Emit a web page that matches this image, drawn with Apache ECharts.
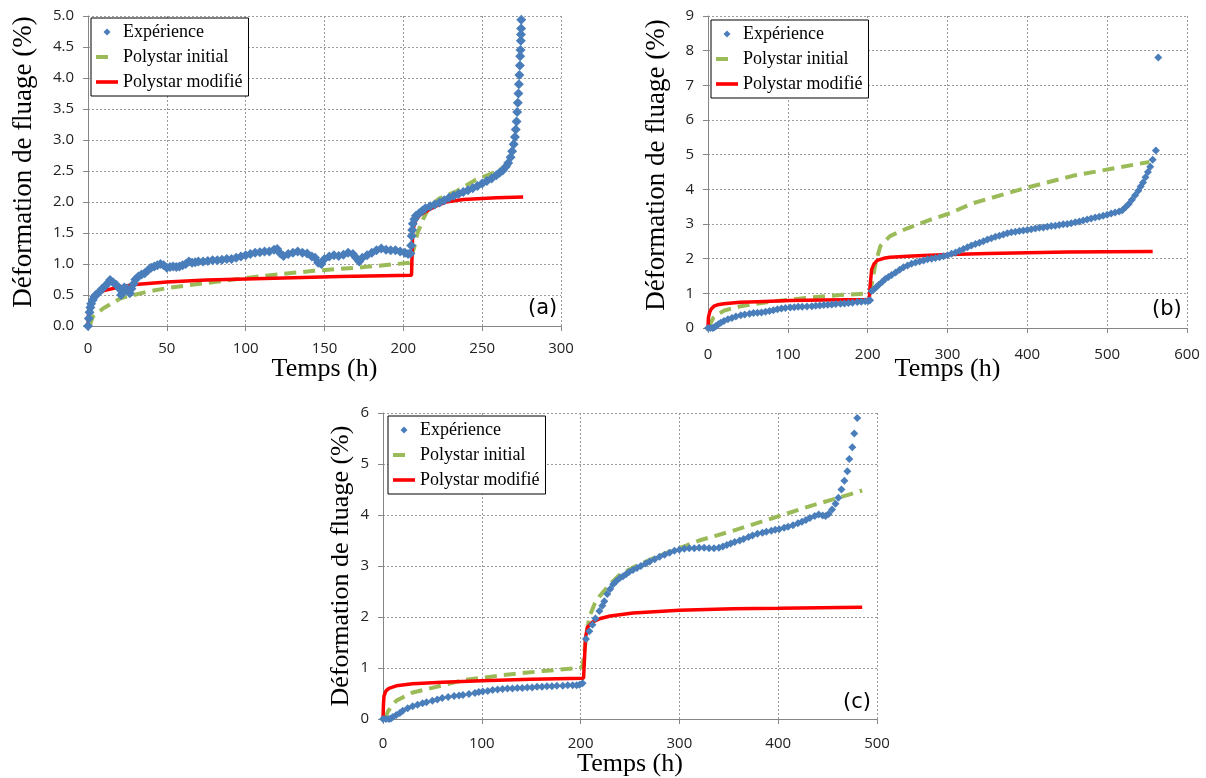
<!DOCTYPE html>
<html><head><meta charset="utf-8">
<script src="https://cdn.jsdelivr.net/npm/echarts@6/dist/echarts.min.js"></script>
<style>html,body{margin:0;padding:0;background:#fff}#c{width:1206px;height:778px}</style>
</head><body><div id="c"></div>
<script>
// ---------- text ----------
const seriesNames = ['Expérience', 'Polystar initial', 'Polystar modifié'];
const panelLabels = ['(a)', '(b)', '(c)'];
const xTitle = 'Temps (h)';
const yTitle = 'Déformation de fluage (%)';

// ---------- axis ranges [min, max, interval] ----------
const xRangeA = [0, 300, 50],  yRangeA = [0, 5, 0.5];
const xRangeB = [0, 600, 100], yRangeB = [0, 9, 1];
const xRangeC = [0, 500, 100], yRangeC = [0, 6, 1];

// ---------- panel (a) ----------
const expA = [[0,0],[0.5,0.12],[1,0.22],[1.5,0.3],[2,0.36],[3,0.42],[4,0.47],[5,0.5],[7,0.55],[9,0.6],[11,0.65],[13,0.7],[14,0.74],[16,0.7],[18,0.66],[20,0.6],[21,0.5],[22,0.55],[23,0.62],[25,0.6],[26.5,0.53],[27.5,0.6],[29,0.68],[30,0.75],[32,0.8],[34,0.83],[36,0.85],[38,0.9],[40,0.94],[42,0.96],[44,0.98],[46,1.0],[48,0.98],[50,0.94],[52,0.95],[54,0.96],[56,0.95],[58,0.96],[60,0.98],[62,1.0],[64,1.04],[66,1.02],[68,1.03],[70,1.04],[73,1.04],[76,1.05],[79,1.06],[82,1.06],[85,1.07],[88,1.08],[91,1.08],[94,1.1],[97,1.12],[100,1.14],[103,1.16],[106,1.18],[109,1.19],[112,1.2],[115,1.2],[118,1.23],[120,1.24],[122,1.17],[124,1.13],[127,1.16],[130,1.18],[133,1.2],[136,1.18],[139,1.17],[142,1.12],[144,1.1],[146,1.02],[148,1.0],[150,1.08],[153,1.12],[156,1.14],[159,1.13],[162,1.15],[165,1.18],[168,1.16],[170,1.1],[172,1.04],[174,1.1],[177,1.14],[180,1.18],[183,1.22],[186,1.25],[189,1.23],[192,1.22],[195,1.22],[198,1.2],[201,1.18],[203,1.16],[204.5,1.17],[205,1.3],[205.3,1.45],[205.6,1.55],[206,1.65],[207,1.72],[208,1.78],[210,1.82],[212,1.86],[214,1.9],[217,1.93],[220,1.96],[223,1.99],[226,2.03],[229,2.07],[232,2.1],[235,2.13],[238,2.16],[241,2.19],[244,2.22],[247,2.26],[250,2.3],[253,2.34],[256,2.38],[259,2.43],[261,2.47],[263,2.51],[265,2.57],[266.5,2.63],[268,2.72],[269,2.82],[270,2.93],[270.8,3.05],[271.3,3.17],[271.8,3.3],[272.2,3.45],[272.6,3.6],[273,3.75],[273.3,3.9],[273.6,4.05],[273.9,4.2],[274.1,4.35],[274.3,4.45],[274.5,4.6],[274.6,4.7],[274.7,4.8],[274.8,4.94]];
const initA = [[1,0],[3,0.15],[10,0.29],[21,0.45],[37,0.55],[52,0.62],[80,0.71],[109,0.8],[143,0.89],[175,0.95],[204,1.02],[207,1.28],[209,1.5],[212.5,1.72],[216.6,1.93],[223,2.06],[233.6,2.17],[246,2.36],[259,2.49],[270.5,2.66]];
const modA = [[0,0],[0.3,0.2],[0.7,0.3],[1.5,0.38],[3,0.45],[5,0.5],[10,0.57],[20,0.63],[30,0.67],[50,0.71],[75,0.74],[100,0.76],[130,0.78],[160,0.8],[205.2,0.82],[205.6,1.2],[206,1.55],[208,1.71],[211,1.8],[216.6,1.88],[222,1.95],[227,2.0],[238,2.04],[259,2.07],[276,2.08]];

// ---------- panel (b) ----------
const expB = [[0,0],[3,0],[6,0],[8,0.02],[10,0.06],[13,0.11],[16,0.15],[20,0.2],[25,0.25],[30,0.29],[35,0.33],[41,0.37],[46,0.39],[52,0.41],[57,0.43],[62,0.44],[67,0.45],[72,0.47],[77,0.49],[82,0.51],[87,0.54],[92,0.56],[97,0.58],[103,0.59],[108,0.6],[113,0.61],[118,0.61],[124,0.62],[130,0.63],[135,0.64],[140,0.65],[145,0.66],[150,0.67],[155,0.68],[160,0.69],[166,0.7],[171,0.71],[176,0.72],[181,0.73],[187,0.75],[192,0.76],[197,0.77],[201,0.78],[203,0.8],[205,1.07],[208,1.12],[211,1.18],[214,1.25],[218,1.33],[222,1.41],[226,1.47],[230,1.53],[235,1.6],[240,1.68],[245,1.75],[250,1.8],[255,1.85],[260,1.89],[265,1.92],[270,1.95],[275,1.98],[280,2.0],[285,2.02],[290,2.04],[295,2.07],[300,2.1],[305,2.14],[310,2.18],[315,2.23],[320,2.28],[325,2.33],[330,2.38],[335,2.42],[340,2.46],[345,2.5],[350,2.55],[355,2.59],[360,2.63],[365,2.66],[370,2.7],[375,2.73],[380,2.76],[385,2.78],[390,2.8],[395,2.81],[400,2.83],[405,2.85],[410,2.87],[415,2.89],[420,2.9],[425,2.92],[430,2.94],[435,2.95],[440,2.97],[445,2.99],[450,3.0],[455,3.02],[460,3.05],[465,3.07],[470,3.1],[475,3.13],[480,3.16],[485,3.19],[490,3.21],[495,3.24],[500,3.27],[505,3.3],[510,3.33],[515,3.36],[519,3.4],[523,3.48],[527,3.58],[531,3.7],[535,3.83],[539,3.96],[542,4.08],[545,4.2],[548,4.35],[551,4.5],[554,4.65],[557,4.85],[561,5.12],[564,7.8]];
const initB = [[2,0],[3.3,0.15],[7,0.3],[12,0.39],[20,0.5],[41,0.63],[82,0.77],[124,0.87],[166,0.95],[200,1.0],[203,1.02],[207,1.5],[210,1.88],[216,2.37],[228,2.65],[249,2.87],[278,3.12],[303,3.31],[332,3.6],[395,4.02],[457,4.39],[507,4.6],[553,4.79]];
const modB = [[0,0],[0.5,0.3],[2,0.45],[4,0.55],[7.5,0.63],[12,0.67],[20,0.7],[40,0.74],[62,0.76],[103,0.79],[145,0.81],[202,0.82],[203,1.2],[205,1.69],[208,1.85],[212,1.95],[220,2.01],[228,2.04],[250,2.07],[270,2.09],[303,2.12],[350,2.15],[400,2.17],[450,2.19],[500,2.2],[557,2.21]];

// ---------- panel (c) ----------
const expC = [[0,0],[3,0],[6,0],[8,0.01],[10,0.04],[13.5,0.08],[17,0.12],[20,0.16],[25,0.21],[30,0.25],[35,0.28],[40,0.31],[44,0.33],[50,0.36],[55,0.38],[60,0.41],[66,0.43],[72,0.45],[77,0.46],[81,0.47],[87,0.49],[93,0.51],[97,0.53],[101,0.54],[106,0.55],[111,0.57],[116,0.58],[121,0.59],[126,0.6],[131,0.6],[136,0.61],[141,0.61],[146,0.62],[151,0.62],[156,0.63],[161,0.63],[166,0.64],[171,0.64],[176,0.65],[182,0.65],[187,0.66],[192,0.66],[196,0.66],[199,0.67],[202,0.7],[205.4,1.57],[208.8,1.72],[212,1.85],[215,1.97],[219,2.12],[222,2.22],[224,2.31],[227,2.45],[230,2.55],[233,2.64],[236,2.7],[240,2.77],[243,2.8],[246,2.84],[249,2.88],[253,2.92],[257,2.96],[261,3.0],[266,3.05],[270,3.09],[275,3.13],[280,3.18],[285,3.22],[290,3.26],[295,3.3],[300,3.32],[305,3.34],[310,3.35],[315,3.35],[320,3.36],[325,3.36],[330,3.35],[335,3.35],[340,3.36],[344,3.38],[348,3.41],[352,3.44],[356,3.47],[361,3.5],[365,3.53],[370,3.57],[374,3.6],[379,3.63],[384,3.65],[388,3.67],[393,3.69],[397,3.71],[401,3.72],[406,3.75],[410,3.77],[415,3.8],[420,3.84],[424,3.87],[428,3.9],[432,3.94],[437,3.98],[441,4.01],[445,3.99],[448,3.98],[451,4.02],[454.5,4.11],[458,4.22],[461,4.34],[464,4.5],[467,4.67],[470,4.86],[472,5.1],[475,5.33],[477,5.6],[480,5.9]];
const initC = [[2,0],[5,0.15],[13.5,0.36],[30,0.52],[54,0.63],[81,0.76],[121,0.86],[161.6,0.94],[198.6,1.0],[202,1.02],[205,1.5],[208.8,2.0],[214,2.25],[219,2.4],[229,2.63],[239,2.82],[253,2.97],[270,3.12],[290,3.28],[307,3.4],[320,3.5],[354,3.69],[401,3.98],[434.7,4.19],[454.5,4.3],[485,4.48]];
const modC = [[0,0],[0.5,0.3],[1,0.45],[3,0.55],[6,0.6],[13.5,0.65],[30,0.69],[60,0.72],[100,0.75],[150,0.78],[203,0.8],[204,1.2],[205,1.6],[207,1.8],[212,1.9],[220,1.97],[230,2.02],[253,2.08],[300,2.13],[354,2.16],[401,2.17],[485,2.19]];

// ---------- styling ----------
const BLUE = '#4A7EBB', GREEN = '#9BBB59', RED = '#FF0000';
const grids = [
  {left: 88, top: 16, width: 473, height: 310},
  {left: 708, top: 16, width: 479, height: 312},
  {left: 383, top: 413, width: 494, height: 308}
];
const yNameGaps = [51, 38, 29];
const yNameShift = [18, 14, 0];
const yNameSize = [27, 27, 26];
const xLabelMargins = [15, 19, 17];
const xNameGaps = [30, 28, 32];
const legendPos = [{left: 91, top: 18}, {left: 711, top: 20}, {left: 388, top: 416}];
const labelPos = [{left: 528, top: 298}, {left: 1152, top: 299}, {left: 843, top: 692}];

const panels = [
  {x: xRangeA, y: yRangeA, exp: expA, init: initA, mod: modA, yDec: 1, sym: 10},
  {x: xRangeB, y: yRangeB, exp: expB, init: initB, mod: modB, yDec: 0, sym: 8},
  {x: xRangeC, y: yRangeC, exp: expC, init: initC, mod: modC, yDec: 0, sym: 8}
];

// legend icons: 22x8 box defined by the two leading moveTo points
const ICON_EXP = 'path://M0,0M22,8M11,0.5L14.5,4L11,7.5L7.5,4Z';
const ICON_INIT = 'path://M0,0M22,8M0,2L12,2L12,6L0,6Z';
const ICON_MOD = 'path://M0,0M22,8M0,2.2L22,2.2L22,5.8L0,5.8Z';

const tickFont = {fontFamily: 'Open Sans', fontSize: 15, color: '#222'};
const gridLine = {show: true, lineStyle: {color: '#9a9a9a', type: [2, 2], width: 1}};
const axisLine = {show: true, onZero: false, lineStyle: {color: '#868686', width: 1}};

const option = {
  backgroundColor: '#fff',
  animation: false,
  grid: grids.map(g => Object.assign({containLabel: false}, g)),
  xAxis: panels.map((p, i) => ({
    type: 'value', gridIndex: i, min: p.x[0], max: p.x[1], interval: p.x[2],
    name: xTitle, nameLocation: 'middle', nameGap: xNameGaps[i], nameMoveOverlap: false,
    nameTextStyle: {fontFamily: 'Liberation Serif', fontSize: 26, color: '#000'},
    axisLine: axisLine, axisTick: {show: true, length: 5, lineStyle: {color: '#868686'}},
    axisLabel: Object.assign({margin: xLabelMargins[i]}, tickFont), splitLine: gridLine
  })),
  yAxis: panels.map((p, i) => ({
    type: 'value', gridIndex: i, min: p.y[0], max: p.y[1], interval: p.y[2],
    name: yTitle, nameLocation: 'middle', nameGap: yNameGaps[i], nameMoveOverlap: false,
    nameTextStyle: {fontFamily: 'Liberation Serif', fontSize: yNameSize[i], color: '#000', padding: [0, 0, 0, yNameShift[i]]},
    axisLine: axisLine, axisTick: {show: true, length: 5, lineStyle: {color: '#868686'}},
    axisLabel: Object.assign({margin: 14, formatter: v => v.toFixed(p.yDec)}, tickFont),
    splitLine: gridLine
  })),
  legend: panels.map((p, i) => ({
    orient: 'vertical', left: legendPos[i].left, top: legendPos[i].top,
    backgroundColor: '#fff', borderColor: '#000', borderWidth: 1,
    padding: [4, 6, 4, 5], itemGap: 5, itemWidth: 22, itemHeight: 8,
    textStyle: {fontFamily: 'Liberation Serif', fontSize: 18, color: '#000', lineHeight: 20},
    data: [
      {name: seriesNames[0], icon: ICON_EXP},
      {name: seriesNames[1], icon: ICON_INIT},
      {name: seriesNames[2], icon: ICON_MOD}
    ],
    selectedMode: false
  })),
  title: panels.map((p, i) => ({
    text: panelLabels[i], left: labelPos[i].left, top: labelPos[i].top, padding: 0,
    textStyle: {fontFamily: 'DejaVu Sans', fontSize: 21, fontWeight: 'normal', color: '#000'}
  })),
  series: []
};

panels.forEach((p, i) => {
  option.series.push({
    name: seriesNames[1], type: 'line', xAxisIndex: i, yAxisIndex: i, data: p.init,
    symbol: 'none', smooth: false, z: 2,
    lineStyle: {color: GREEN, width: 4, type: [12, 7]}, itemStyle: {color: GREEN}
  });
  option.series.push({
    name: seriesNames[2], type: 'line', xAxisIndex: i, yAxisIndex: i, data: p.mod,
    symbol: 'none', smooth: false, z: 3,
    lineStyle: {color: RED, width: 3.5}, itemStyle: {color: RED}
  });
  option.series.push({
    name: seriesNames[0], type: 'scatter', xAxisIndex: i, yAxisIndex: i, data: p.exp,
    symbol: 'diamond', symbolSize: p.sym, z: 4,
    itemStyle: {color: BLUE, opacity: 1}
  });
});

const chart = echarts.init(document.getElementById('c'), null, {renderer: 'canvas'});
chart.setOption(option);
</script></body></html>
